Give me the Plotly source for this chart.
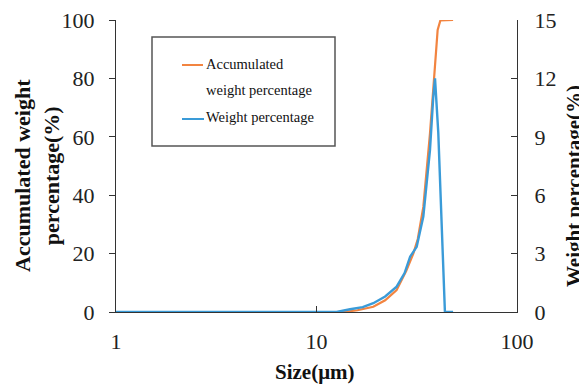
import plotly.graph_objects as go

# Data
acc_size = [1, 13.6, 16, 19.2, 22, 25.1, 28, 30.4, 32, 34.1, 36.8, 39.0, 40.2, 41.5, 48]
acc_vals = [0, 0, 0.6, 1.8, 4.0, 7.5, 14, 20, 25, 36, 61, 84, 96.6, 99.9, 100]

wt_size = [1, 12.6, 14.7, 17, 19.2, 22, 25.1, 27.5, 29.3, 31.6, 34.1, 36.8, 38.2, 39.0, 40.5, 42.1, 43.7, 48]
wt_vals = [0, 0, 0.14, 0.25, 0.45, 0.8, 1.3, 2.0, 2.84, 3.35, 4.9, 8.3, 11.0, 12.0, 9.2, 4.0, 0, 0]

left_ticks = [0, 20, 40, 60, 80, 100]
right_ticks = [0, 3, 6, 9, 12, 15]
x_ticks = [1, 10, 100]

ORANGE = "#F28440"
BLUE = "#3A9BD8"
FONT = "Liberation Serif"

fig = go.Figure()
fig.add_trace(go.Scatter(x=acc_size, y=acc_vals, mode="lines", name="Accumulated weight percentage",
                         line=dict(color=ORANGE, width=2.2), yaxis="y"))
fig.add_trace(go.Scatter(x=wt_size, y=wt_vals, mode="lines", name="Weight percentage",
                         line=dict(color=BLUE, width=2.4), yaxis="y2"))

# page body has an 8px margin; work in window pixel coordinates
OFF = 8
W, H = 587 - OFF, 385 - OFF
L, R, T, B = 116 - OFF, 587 - 517, 20 - OFF, 385 - 312
pw = W - L - R
ph = H - T - B

def px(xw):
    return (xw - OFF - L) / pw

def py(yw):
    return (H - B - (yw - OFF)) / ph

fig.update_layout(
    width=W, height=H,
    margin=dict(l=L, r=R, t=T, b=B, autoexpand=False),
    paper_bgcolor="white", plot_bgcolor="white",
    showlegend=False,
    font=dict(family=FONT, color="#222", size=22),
    xaxis=dict(type="log", range=[0, 2], tickvals=x_ticks, ticktext=[str(v) for v in x_ticks],
               showgrid=False, zeroline=False, showline=True, linecolor="#333", linewidth=1.2,
               ticks="inside", ticklen=6, tickcolor="#333", tickfont=dict(size=22, family=FONT),
               ticklabelstandoff=9, ticklabeloverflow="allow", automargin=False),
    yaxis=dict(range=[0, 100], tickvals=left_ticks, showgrid=False, zeroline=False,
               showline=True, linecolor="#333", linewidth=1.2, ticks="outside", ticklen=6,
               tickcolor="#333", tickfont=dict(size=22, family=FONT), ticklabelstandoff=10,
               ticklabeloverflow="allow", automargin=False),
    yaxis2=dict(range=[0, 15], tickvals=right_ticks, overlaying="y", side="right",
                showgrid=False, zeroline=False, showline=True, linecolor="#333", linewidth=1.2,
                ticks="inside", ticklen=6, tickcolor="#333", tickfont=dict(size=22, family=FONT),
                ticklabelstandoff=12, ticklabeloverflow="allow", automargin=False),
)

annotations = [
    dict(text="<b>Accumulated weight<br>percentage(%)</b>", xref="paper", yref="paper",
         x=px(37), y=py(176), xanchor="center", yanchor="middle", textangle=-90,
         showarrow=False, font=dict(size=22, family=FONT, color="#111")),
    dict(text="<b>Weight percentage(%)</b>", xref="paper", yref="paper",
         x=px(574), y=py(186), xanchor="center", yanchor="middle", textangle=-90,
         showarrow=False, font=dict(size=21, family=FONT, color="#111")),
    dict(text="<b>Size(μm)</b>", xref="paper", yref="paper",
         x=px(315), y=py(372), xanchor="center", yanchor="middle",
         showarrow=False, font=dict(size=21, family=FONT, color="#111")),
    dict(text="Accumulated", xref="paper", yref="paper", x=px(204), y=py(64),
         xanchor="left", yanchor="middle", showarrow=False, font=dict(size=14.5, family=FONT, color="#111")),
    dict(text="weight percentage", xref="paper", yref="paper", x=px(204), y=py(90),
         xanchor="left", yanchor="middle", showarrow=False, font=dict(size=14.5, family=FONT, color="#111")),
    dict(text="Weight percentage", xref="paper", yref="paper", x=px(204), y=py(117),
         xanchor="left", yanchor="middle", showarrow=False, font=dict(size=14.5, family=FONT, color="#111")),
]
fig.update_layout(annotations=annotations)

shapes = [
    dict(type="rect", xref="paper", yref="paper", x0=px(152), x1=px(335), y0=py(146), y1=py(37),
         line=dict(color="#555", width=1.5), fillcolor="white", layer="below"),
    dict(type="line", xref="paper", yref="paper", x0=px(182), x1=px(203), y0=py(65), y1=py(65),
         line=dict(color=ORANGE, width=2)),
    dict(type="line", xref="paper", yref="paper", x0=px(182), x1=px(204), y0=py(119), y1=py(119),
         line=dict(color=BLUE, width=2)),
]
fig.update_layout(shapes=shapes)

fig.write_html("out.html")
